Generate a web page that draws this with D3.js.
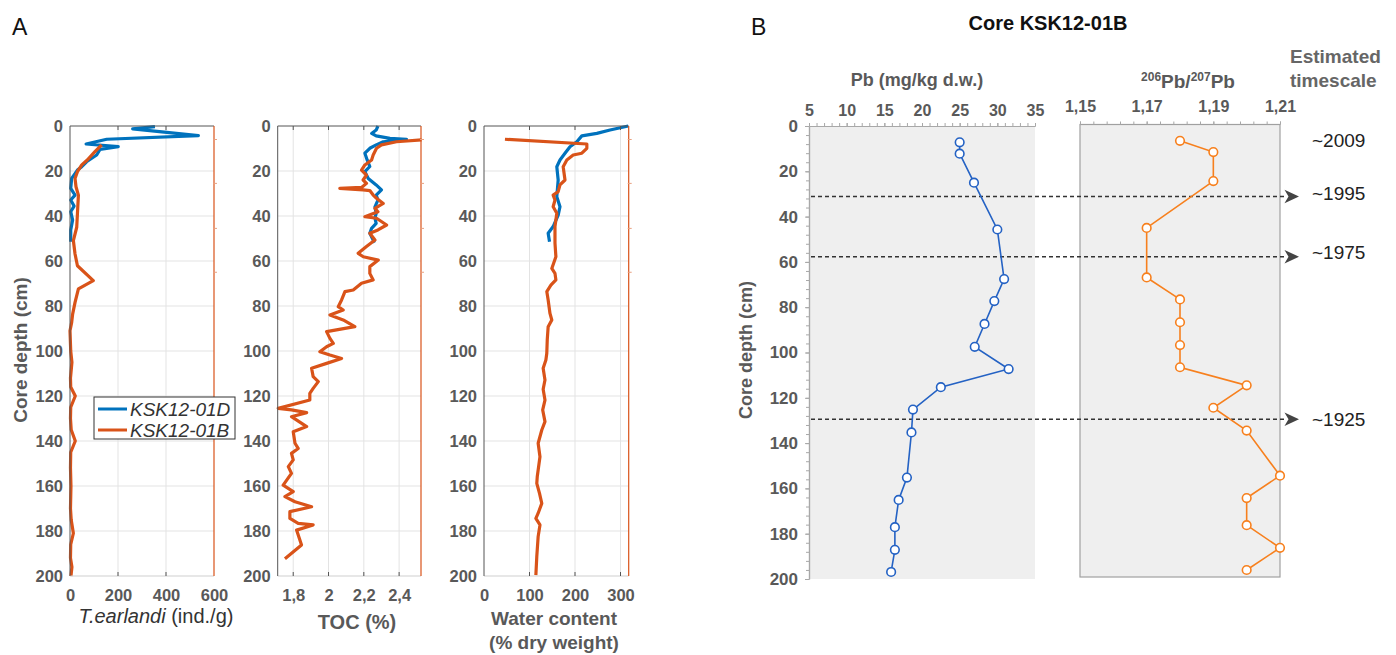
<!DOCTYPE html>
<html><head><meta charset="utf-8">
<script src="https://cdn.jsdelivr.net/npm/d3@7"></script>
<style>body{margin:0;background:#fff}svg{display:block;font-family:Arial,"Liberation Sans",sans-serif}</style>
</head><body><svg id="c" width="1396" height="655"></svg>
<script>
// ---------- DATA ----------
const depthTicks = [0,20,40,60,80,100,120,140,160,180,200];
const seriesNames = ["KSK12-01D","KSK12-01B"];
// T. earlandi (ind./g) : [depth cm, value]
const tearlD = [[0.3,354],[1.3,261],[4.3,535],[5.9,153],[8,67],[9.2,201],[10.4,125],[12.9,111],[15.9,69],[18.1,49],[19.6,31],[23.3,7],[27.7,3],[30.7,21],[32.9,3],[35.6,17],[38.1,3],[41.8,11],[46.2,3],[51.4,3]];
const tearlB = [[8.4,132],[11.4,104],[15.1,72],[17.3,49],[20.3,31],[23.3,21],[27,25],[30.7,35],[39,31],[45,28],[50.9,14],[56.9,21],[62.1,31],[68.7,97],[72.4,35],[78.4,21],[83.6,11],[87.3,7],[91,0],[100,3],[105,8],[112,2],[116,3],[120,22],[125,3],[130,2],[135,5],[140,22],[145,3],[152,2],[160,4],[170,2],[175,5],[181,14],[186,3],[192,2],[196,8],[200,4]];
// TOC (%)
const tocD = [[0,2.28],[1.8,2.27],[3.3,2.244],[4.4,2.27],[5.5,2.348],[5.9,2.442],[7,2.31],[8.4,2.27],[9.9,2.234],[12.1,2.206],[15.1,2.219],[18,2.234],[20.3,2.206],[23.3,2.225],[26.2,2.27],[28.4,2.3],[30.7,2.27],[32.9,2.28],[35.9,2.263],[38.8,2.27],[41,2.263],[43.3,2.27],[45.5,2.244],[47.7,2.234],[50.7,2.253],[51.9,2.26]];
const tocB = [[6.2,2.527],[7,2.385],[8.4,2.3],[9.9,2.272],[12.9,2.253],[15.1,2.244],[17.3,2.206],[19.6,2.187],[21.8,2.215],[24,2.196],[25.5,2.215],[27.3,2.187],[27.7,2.064],[28.4,2.196],[28.7,2.234],[30.7,2.253],[32.1,2.272],[34.4,2.31],[36.6,2.263],[38.1,2.28],[40.3,2.206],[41,2.272],[44,2.329],[46.2,2.28],[47.7,2.234],[50.7,2.263],[53.6,2.215],[56.6,2.168],[58.1,2.197],[59.6,2.282],[62.5,2.234],[65.5,2.234],[68.4,2.253],[69.9,2.187],[72.9,2.14],[73.6,2.093],[77.3,2.074],[80.3,2.055],[81.8,2.083],[84,2.008],[86.2,2.083],[89.2,2.149],[91.4,1.989],[94.4,2.008],[96.6,2.027],[98.1,1.989],[100.3,1.951],[101.8,2.008],[103.3,2.074],[105.5,1.989],[107.7,1.904],[111.4,1.913],[113.6,1.942],[116.6,1.913],[118.8,1.894],[121.8,1.894],[125.5,1.715],[126.2,1.79],[127.4,1.876],[129.2,1.79],[133.6,1.876],[135.9,1.8],[141,1.81],[143.3,1.828],[145.5,1.79],[148.4,1.8],[151.4,1.772],[154.4,1.79],[159.6,1.743],[162.5,1.8],[164.7,1.753],[167,1.81],[169.2,1.904],[171.4,1.781],[174.4,1.781],[176.6,1.828],[177.3,1.913],[179.6,1.819],[186.2,1.847],[192.3,1.753]];
// Water content (% dry weight)
const waterD = [[0,317],[1.8,277],[3.3,248],[4.4,215],[7,204],[9.2,189],[12.1,178],[15.1,167],[18.1,160],[24,163],[31.4,160],[35.9,167],[39.6,163],[44.7,152],[47.7,141],[51.4,144]];
const waterB = [[5.9,46],[8,226],[9.9,226],[12.1,215],[12.9,196],[15.1,182],[18.1,174],[24,178],[26.2,167],[29.2,163],[30.7,152],[32.9,156],[35.9,152],[38.8,160],[44.7,156],[52.1,156],[58.1,158],[63.3,149],[65.5,156],[68.4,158],[70.7,147],[73.6,138],[77.3,141],[83.3,145],[86.2,149],[89.2,141],[95.1,139],[101,138],[104,136],[107.7,130],[112.9,134],[117,130],[121.8,134],[126.2,129],[131.4,134],[135.1,127],[141,119],[147,123],[155.9,117],[158.8,116],[163.3,122],[167.7,127],[172.1,119],[174.4,114],[177.3,123],[182.5,119],[191.4,116],[199.6,114]];
const tearlTicks = [0,200,400,600];
const tocTicks = [1.8,2,2.2,2.4];
const waterTicks = [0,100,200,300];
// Panel B: core KSK12-01B
const pbDepth = [7.2,12.2,25,45.7,67.6,77.3,87.4,97.5,107.3,115.3,125.2,135.3,155.2,165.1,177.1,187.1,196.9];
const pbConc  = [25.0,25.0,26.9,30.0,30.9,29.6,28.3,27.0,31.5,22.5,18.8,18.6,18.0,16.9,16.4,16.4,15.9];
const pbRatio = [1.18,1.19,1.19,1.17,1.17,1.18,1.18,1.18,1.18,1.20,1.19,1.20,1.21,1.20,1.20,1.21,1.20];
const pbTicks = [5,10,15,20,25,30,35];
const ratioTicks = [1.15,1.17,1.19,1.21];
const bDepthTicks = [0,20,40,60,80,100,120,140,160,180,200];
const arrowDepths = [31.1,57.7,129.5];
const timeLabels = ["~2009","~1995","~1975","~1925"];
const timeLabelDepths = [6.2,29.6,55.6,129.4];

// ---------- DRAW ----------
const svg = d3.select("#c");
const loc = d3.formatLocale({decimal:",",thousands:".",grouping:[3],currency:["",""]});
const fmtC = v => String(v).replace(".",",");
const TICKC = "#595959";
const BLUE = "#0072BD", ORANGE = "#D95319";

// panel letters
svg.append("text").attr("x",12).attr("y",35).attr("font-size",23).attr("fill","#111").text("A");
svg.append("text").attr("x",751).attr("y",35).attr("font-size",23).attr("fill","#111").text("B");

// ---- Panel A ----
const yA = d3.scaleLinear().domain([0,200]).range([126,576]);
const subs = [
  {x0:70,x1:214,domain:[0,600],ticks:tearlTicks,D:tearlD,B:tearlB},
  {x0:277.7,x1:421,domain:[1.712,2.524],ticks:tocTicks,D:tocD,B:tocB},
  {x0:484,x1:628.7,domain:[0,318],ticks:waterTicks,D:waterD,B:waterB}
];
subs.forEach((s,i)=>{
  const x = d3.scaleLinear().domain(s.domain).range([s.x0,s.x1]);
  const g = svg.append("g");
  g.append("rect").attr("x",s.x0).attr("y",yA(0)).attr("width",s.x1-s.x0).attr("height",yA(200)-yA(0)).attr("fill","#fff");
  g.selectAll("line.vg").data(s.ticks.filter(t=>x(t)>s.x0+1&&x(t)<s.x1-1)).join("line")
    .attr("x1",d=>x(d)).attr("x2",d=>x(d)).attr("y1",yA(0)).attr("y2",yA(200)).attr("stroke","#e3e3e3");
  g.selectAll("line.hg").data(depthTicks.slice(1,-1)).join("line")
    .attr("x1",s.x0).attr("x2",s.x1).attr("y1",d=>yA(d)).attr("y2",d=>yA(d)).attr("stroke","#e3e3e3");
  const cid = "clipA"+i;
  svg.append("clipPath").attr("id",cid).append("rect").attr("x",s.x0-2).attr("y",yA(0)-2).attr("width",s.x1-s.x0+4).attr("height",yA(200)-yA(0)+4);
  const line = d3.line().x(d=>x(d[1])).y(d=>yA(d[0]));
  const lg = g.append("g").attr("clip-path",`url(#${cid})`);
  lg.append("path").datum(s.D).attr("d",line).attr("fill","none").attr("stroke",BLUE).attr("stroke-width",3.2).attr("stroke-linejoin","round");
  lg.append("path").datum(s.B).attr("d",line).attr("fill","none").attr("stroke",ORANGE).attr("stroke-width",3.2).attr("stroke-linejoin","round");
  // frame
  g.append("line").attr("x1",s.x0).attr("x2",s.x1).attr("y1",yA(200)).attr("y2",yA(200)).attr("stroke","#cfcfcf");
  g.append("line").attr("x1",s.x0).attr("x2",s.x1).attr("y1",yA(0)).attr("y2",yA(0)).attr("stroke","#555");
  g.append("line").attr("x1",s.x0).attr("x2",s.x0).attr("y1",yA(0)).attr("y2",yA(200)).attr("stroke","#555");
  g.append("line").attr("x1",s.x1).attr("x2",s.x1).attr("y1",yA(0)).attr("y2",yA(200)).attr("stroke",ORANGE).attr("stroke-width",1.2);
  g.selectAll("line.ot").data([6,25.5,45.5,65]).join("line")
    .attr("x1",s.x1-1).attr("x2",s.x1+3).attr("y1",d=>yA(d)).attr("y2",d=>yA(d)).attr("stroke","#e8a080").attr("stroke-width",1);
  // inward ticks top/bottom
  g.selectAll("line.tt").data(s.ticks.filter(t=>x(t)>s.x0+1&&x(t)<s.x1-1)).join("line")
    .attr("x1",d=>x(d)).attr("x2",d=>x(d)).attr("y1",yA(0)).attr("y2",yA(0)+4).attr("stroke","#555");
  g.selectAll("line.bt").data(s.ticks.filter(t=>x(t)>s.x0+1&&x(t)<s.x1-1)).join("line")
    .attr("x1",d=>x(d)).attr("x2",d=>x(d)).attr("y1",yA(200)).attr("y2",yA(200)-4).attr("stroke","#555");
  // axes labels
  const ay = g.append("g").attr("transform",`translate(${s.x0},0)`)
    .call(d3.axisLeft(yA).tickValues(depthTicks).tickSize(0).tickPadding(7));
  const ax = g.append("g").attr("transform",`translate(0,${yA(200)})`)
    .call(d3.axisBottom(x).tickValues(s.ticks).tickFormat(fmtC).tickSize(0).tickPadding(13));
  [ay,ax].forEach(a=>{a.select(".domain").remove();
    a.selectAll("text").attr("font-size",16.5).attr("font-weight","bold").attr("fill",TICKC).attr("font-family","Arial, Liberation Sans, sans-serif");});
});
// axis titles panel A
svg.append("text").attr("transform","translate(27,350) rotate(-90)").attr("text-anchor","middle")
  .attr("font-size",19).attr("font-weight","bold").attr("fill",TICKC).text("Core depth (cm)");
const tl = svg.append("text").attr("x",156).attr("y",623).attr("text-anchor","middle").attr("font-size",20).attr("fill","#333");
tl.append("tspan").attr("font-style","italic").text("T.earlandi");
tl.append("tspan").text(" (ind./g)");
svg.append("text").attr("x",357).attr("y",629).attr("text-anchor","middle").attr("font-size",20).attr("font-weight","bold").attr("fill",TICKC).text("TOC (%)");
svg.append("text").attr("x",554).attr("y",625).attr("text-anchor","middle").attr("font-size",19).attr("font-weight","bold").attr("fill",TICKC).text("Water content");
svg.append("text").attr("x",554).attr("y",649).attr("text-anchor","middle").attr("font-size",19).attr("font-weight","bold").attr("fill",TICKC).text("(% dry weight)");
// legend
const leg = svg.append("g");
leg.append("rect").attr("x",94).attr("y",397).attr("width",141).attr("height",42).attr("fill","#fff").attr("stroke","#333").attr("stroke-width",1);
seriesNames.forEach((n,i)=>{
  const yy = 409 + i*21;
  leg.append("line").attr("x1",98).attr("x2",127).attr("y1",yy).attr("y2",yy).attr("stroke",i?ORANGE:BLUE).attr("stroke-width",3);
  leg.append("text").attr("x",130).attr("y",yy+7).attr("font-size",19).attr("font-style","italic").attr("fill","#333").text(n);
});

// ---- Panel B ----
const PBBLUE = "#2462c4", PBOR = "#f7801e";
svg.append("text").attr("x",1048).attr("y",30).attr("text-anchor","middle").attr("font-size",20).attr("font-weight","bold").attr("fill","#111").text("Core KSK12-01B");
const yB = d3.scaleLinear().domain([0,200]).range([126,579]);
const yR = d3.scaleLinear().domain([0,200]).range([124.5,577]);
const xPb = d3.scaleLinear().domain([5,35]).range([809,1035]);
const xR = d3.scaleLinear().domain([1.15,1.21]).range([1080,1280]);

svg.append("rect").attr("x",xPb(5)).attr("y",yB(0)).attr("width",xPb(35)-xPb(5)).attr("height",yB(200)-yB(0)).attr("fill","#efefef");
svg.append("rect").attr("x",xR(1.15)).attr("y",yR(0)).attr("width",xR(1.21)-xR(1.15)).attr("height",yR(200)-yR(0)).attr("fill","#efefef").attr("stroke","#a0a0a0").attr("stroke-width",1.2);

// Pb axes
const pbMinor = svg.append("g").attr("transform",`translate(0,${yB(0)})`)
  .call(d3.axisTop(xPb).tickValues(d3.range(5,35.01,1)).tickFormat("").tickSize(3).tickSizeOuter(0));
const pbMaj = svg.append("g").attr("transform",`translate(0,${yB(0)})`)
  .call(d3.axisTop(xPb).tickValues(pbTicks).tickSize(3).tickPadding(7).tickSizeOuter(0));
const pbLeftMin = svg.append("g").attr("transform",`translate(${xPb(5)},0)`)
  .call(d3.axisLeft(yB).tickValues(d3.range(0,200.01,4)).tickFormat("").tickSize(3).tickSizeOuter(0));
const pbLeft = svg.append("g").attr("transform",`translate(${xPb(5)},0)`)
  .call(d3.axisLeft(yB).tickValues(bDepthTicks).tickSize(4).tickPadding(7).tickSizeOuter(0));
const rMinor = svg.append("g").attr("transform",`translate(0,${yR(0)})`)
  .call(d3.axisTop(xR).tickValues(d3.range(0,16).map(i=>1.15+i*0.004)).tickFormat("").tickSize(3).tickSizeOuter(0));
const rMaj = svg.append("g").attr("transform",`translate(0,${yR(0)})`)
  .call(d3.axisTop(xR).tickValues(ratioTicks).tickFormat(loc.format(".2f")).tickSize(3).tickPadding(10).tickSizeOuter(0));
[pbMinor,pbMaj,pbLeftMin,pbLeft,rMinor,rMaj].forEach(a=>{
  a.select(".domain").attr("stroke","#a8a8a8").attr("stroke-width",1.2);
  a.selectAll(".tick line").attr("stroke","#a8a8a8");
  a.selectAll("text").attr("font-size",16).attr("font-weight","bold").attr("fill",TICKC).attr("font-family","Arial, Liberation Sans, sans-serif");
});
pbLeft.selectAll("text").attr("font-size",17);
rMinor.select(".domain").remove(); rMaj.select(".domain").remove();

svg.append("text").attr("x",917).attr("y",86).attr("text-anchor","middle").attr("font-size",18).attr("font-weight","bold").attr("fill",TICKC).text("Pb (mg/kg d.w.)");
const rl = svg.append("text").attr("x",1188).attr("y",88).attr("text-anchor","middle").attr("font-size",19).attr("font-weight","bold").attr("fill",TICKC);
rl.append("tspan").attr("font-size",12).attr("dy",-7).text("206");
rl.append("tspan").attr("dy",7).text("Pb/");
rl.append("tspan").attr("font-size",12).attr("dy",-7).text("207");
rl.append("tspan").attr("dy",7).text("Pb");
svg.append("text").attr("x",1290).attr("y",63).attr("font-size",19).attr("font-weight","bold").attr("fill","#666").text("Estimated");
svg.append("text").attr("x",1290).attr("y",87).attr("font-size",19).attr("font-weight","bold").attr("fill","#666").text("timescale");
svg.append("text").attr("transform","translate(752,350) rotate(-90)").attr("text-anchor","middle")
  .attr("font-size",18).attr("font-weight","bold").attr("fill",TICKC).text("Core depth (cm)");

// arrows
arrowDepths.forEach(d=>{
  const yy = yB(d);
  svg.append("line").attr("x1",811).attr("x2",1287).attr("y1",yy).attr("y2",yy).attr("stroke","#333").attr("stroke-width",1.6).attr("stroke-dasharray","4,3");
  svg.append("path").attr("d",`M1299,${yy} L1284.5,${yy-6.8} L1288.5,${yy} L1284.5,${yy+6.8} Z`).attr("fill","#444");
});
timeLabels.forEach((t,i)=>{
  svg.append("text").attr("x",1312).attr("y",yB(timeLabelDepths[i])+7).attr("font-size",19).attr("fill","#222").text(t);
});

// series
const pbPts = pbDepth.map((d,i)=>({d, v:pbConc[i], r:pbRatio[i]}));
svg.append("path").datum(pbPts).attr("d",d3.line().x(p=>xPb(p.v)).y(p=>yB(p.d))).attr("fill","none").attr("stroke",PBBLUE).attr("stroke-width",1.6);
svg.selectAll("circle.pb").data(pbPts).join("circle").attr("cx",p=>xPb(p.v)).attr("cy",p=>yB(p.d)).attr("r",4.3)
  .attr("fill","#fff").attr("stroke",PBBLUE).attr("stroke-width",1.6);
svg.append("path").datum(pbPts).attr("d",d3.line().x(p=>xR(p.r)).y(p=>yR(p.d))).attr("fill","none").attr("stroke",PBOR).attr("stroke-width",1.6);
svg.selectAll("circle.r").data(pbPts).join("circle").attr("cx",p=>xR(p.r)).attr("cy",p=>yR(p.d)).attr("r",4.3)
  .attr("fill","#fff").attr("stroke",PBOR).attr("stroke-width",1.6);
</script></body></html>
